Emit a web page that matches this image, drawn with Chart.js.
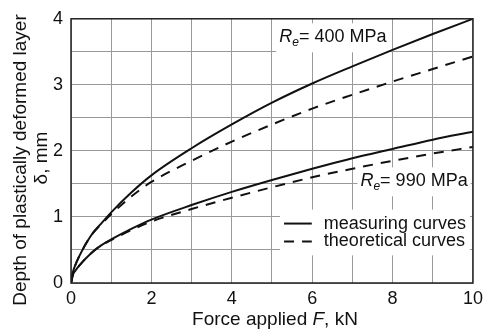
<!DOCTYPE html>
<html>
<head>
    <title>Plastically deformed layer depth</title>
    <style>
        body {
            margin: 0;
            padding: 0;
            background-color: #fff;
        }
        #wrap {
            width: 488px;
            height: 335px;
        }
    </style>
    <script src="https://cdn.jsdelivr.net/npm/chart.js"></script>
</head>
<body>
    <div id="wrap">
        <canvas id="depthChart" width="488" height="335"></canvas>
    </div>

    <script>
        // values
        const forceKN = [0, 0.05, 0.1, 0.2, 0.5, 0.75, 1, 1.5, 2, 3, 4, 5, 6, 7, 8, 9, 10];
        const measured400 = [0, 0.17, 0.26, 0.40, 0.72, 0.90, 1.07, 1.37, 1.63, 2.04, 2.40, 2.73, 3.02, 3.28, 3.53, 3.77, 4.00];
        const theory400 = [0, 0.17, 0.26, 0.40, 0.72, 0.89, 1.04, 1.31, 1.53, 1.85, 2.14, 2.40, 2.64, 2.85, 3.05, 3.24, 3.43];
        const measured990 = [0, 0.13, 0.18, 0.26, 0.45, 0.57, 0.66, 0.82, 0.96, 1.18, 1.38, 1.56, 1.73, 1.89, 2.03, 2.17, 2.29];
        const theory990 = [0, 0.13, 0.18, 0.26, 0.45, 0.57, 0.65, 0.80, 0.93, 1.12, 1.29, 1.45, 1.60, 1.73, 1.85, 1.96, 2.06];

        const xTickLabels = [0, 2, 4, 6, 8, 10];
        const yTickLabels = [0, 1, 2, 3, 4];

        const FONT = 'Arial, "Liberation Sans", sans-serif';
        const DASH = [10, 8];

        function toPoints(ys) {
            return forceKN.map((x, i) => ({ x: x, y: ys[i] }));
        }

        function curve(label, ys, dashed) {
            return {
                label: label,
                data: toPoints(ys),
                showLine: true,
                borderColor: "#111",
                borderWidth: 2,
                borderDash: dashed ? DASH : [],
                pointRadius: 0,
                fill: false,
                cubicInterpolationMode: "monotone"
            };
        }

        // draws "R_e = ... MPa" with italic R and subscript e, returns width
        function drawRe(ctx, x, y, rest, measureOnly) {
            ctx.textBaseline = "middle";
            ctx.textAlign = "left";
            ctx.font = "italic 18px " + FONT;
            const wR = ctx.measureText("R").width;
            ctx.font = "italic 12px " + FONT;
            const we = ctx.measureText("e").width;
            ctx.font = "18px " + FONT;
            const wr = ctx.measureText(rest).width;
            if (!measureOnly) {
                ctx.font = "italic 18px " + FONT;
                ctx.fillText("R", x, y);
                ctx.font = "italic 12px " + FONT;
                ctx.fillText("e", x + wR, y + 5);
                ctx.font = "18px " + FONT;
                ctx.fillText(rest, x + wR + we, y);
            }
            return wR + we + wr;
        }

        const notesPlugin = {
            id: "notes",
            beforeDatasetsDraw(chart) {
                const ctx = chart.ctx;
                const xs = chart.scales.x;
                const ys = chart.scales.y;
                ctx.save();

                // R_e labels on white boxes
                const labels = [
                    { x: 5.18, y: 3.72, text: "= 400 MPa" },
                    { x: 7.2, y: 1.54, text: "= 990 MPa" }
                ];
                labels.forEach(l => {
                    const px = xs.getPixelForValue(l.x);
                    const py = ys.getPixelForValue(l.y);
                    const w = drawRe(ctx, px, py, l.text, true);
                    ctx.fillStyle = "#fff";
                    ctx.fillRect(px - 3, py - 14, w + 6, 29);
                    ctx.fillStyle = "#111";
                    drawRe(ctx, px, py, l.text, false);
                });

                // legend
                const lx0 = xs.getPixelForValue(5.3);
                const lx1 = xs.getPixelForValue(5.99);
                const tx = xs.getPixelForValue(6.29);
                const rows = [ys.getPixelForValue(0.90), ys.getPixelForValue(0.63)];
                ctx.font = "18px " + FONT;
                const ds = chart.data.datasets;
                const legendItems = [
                    { text: ds[0].label, dash: ds[0].borderDash },
                    { text: ds[1].label, dash: ds[1].borderDash }
                ];
                let maxW = 0;
                legendItems.forEach(it => { maxW = Math.max(maxW, ctx.measureText(it.text).width); });
                ctx.fillStyle = "#fff";
                ctx.fillRect(lx0 - 4, rows[0] - 14, tx + maxW + 4 - (lx0 - 4), rows[1] - rows[0] + 28);
                legendItems.forEach((it, i) => {
                    ctx.strokeStyle = "#111";
                    ctx.lineWidth = 2;
                    ctx.setLineDash(it.dash);
                    ctx.beginPath();
                    ctx.moveTo(lx0, rows[i]);
                    ctx.lineTo(lx1, rows[i]);
                    ctx.stroke();
                    ctx.setLineDash([]);
                    ctx.fillStyle = "#111";
                    ctx.textAlign = "left";
                    ctx.textBaseline = "middle";
                    ctx.fillText(it.text, tx, rows[i]);
                });
                ctx.restore();
            },
            afterDraw(chart) {
                const ctx = chart.ctx;
                const a = chart.chartArea;
                ctx.save();
                // frame around plot area
                ctx.strokeStyle = "#222";
                ctx.lineWidth = 1.5;
                ctx.strokeRect(a.left, a.top, a.right - a.left, a.bottom - a.top);

                ctx.fillStyle = "#111";
                // y axis title, two lines
                ctx.translate(21, 160);
                ctx.rotate(-Math.PI / 2);
                ctx.textAlign = "center";
                ctx.textBaseline = "middle";
                ctx.font = "19px " + FONT;
                ctx.fillText("Depth of plastically deformed layer", 0, 0);
                ctx.fillText("\u03b4, mm", 2, 21);
                ctx.setTransform(1, 0, 0, 1, 0, 0);

                // x axis title with italic F
                const p1 = "Force applied ", p2 = "F", p3 = ", kN";
                ctx.font = "19px " + FONT;
                const w1 = ctx.measureText(p1).width;
                const w3 = ctx.measureText(p3).width;
                ctx.font = "italic 19px " + FONT;
                const w2 = ctx.measureText(p2).width;
                let x = 275 - (w1 + w2 + w3) / 2;
                const y = 320;
                ctx.textAlign = "left";
                ctx.textBaseline = "middle";
                ctx.font = "19px " + FONT;
                ctx.fillText(p1, x, y);
                ctx.font = "italic 19px " + FONT;
                ctx.fillText(p2, x + w1, y);
                ctx.font = "19px " + FONT;
                ctx.fillText(p3, x + w1 + w2, y);
                ctx.restore();
            }
        };

        const ctx = document.getElementById("depthChart").getContext("2d");
        new Chart(ctx, {
            type: "scatter",
            data: {
                datasets: [
                    curve("measuring curves", measured400, false),
                    curve("theoretical curves", theory400, true),
                    curve("measuring curves", measured990, false),
                    curve("theoretical curves", theory990, true)
                ]
            },
            options: {
                responsive: false,
                animation: false,
                layout: { padding: { top: 16, right: 10, left: 0, bottom: 0 } },
                plugins: {
                    legend: { display: false },
                    tooltip: { enabled: false }
                },
                scales: {
                    x: {
                        type: "linear",
                        min: 0,
                        max: 10,
                        afterFit(scale) { scale.height = 52; },
                        grid: { color: "#999", lineWidth: 1, drawTicks: false },
                        border: { display: false },
                        ticks: {
                            stepSize: 1,
                            padding: 5,
                            color: "#111",
                            font: { family: FONT, size: 18 },
                            maxRotation: 0,
                            autoSkip: false,
                            callback: v => xTickLabels.includes(v) ? String(v) : ""
                        }
                    },
                    y: {
                        min: 0,
                        max: 4,
                        afterFit(scale) { scale.width = 71; },
                        grid: { color: "#999", lineWidth: 1, drawTicks: false },
                        border: { display: false },
                        ticks: {
                            stepSize: 0.5,
                            padding: 8,
                            color: "#111",
                            font: { family: FONT, size: 18 },
                            autoSkip: false,
                            callback: v => yTickLabels.includes(v) ? String(v) : ""
                        }
                    }
                }
            },
            plugins: [notesPlugin]
        });
    </script>
</body>
</html>
